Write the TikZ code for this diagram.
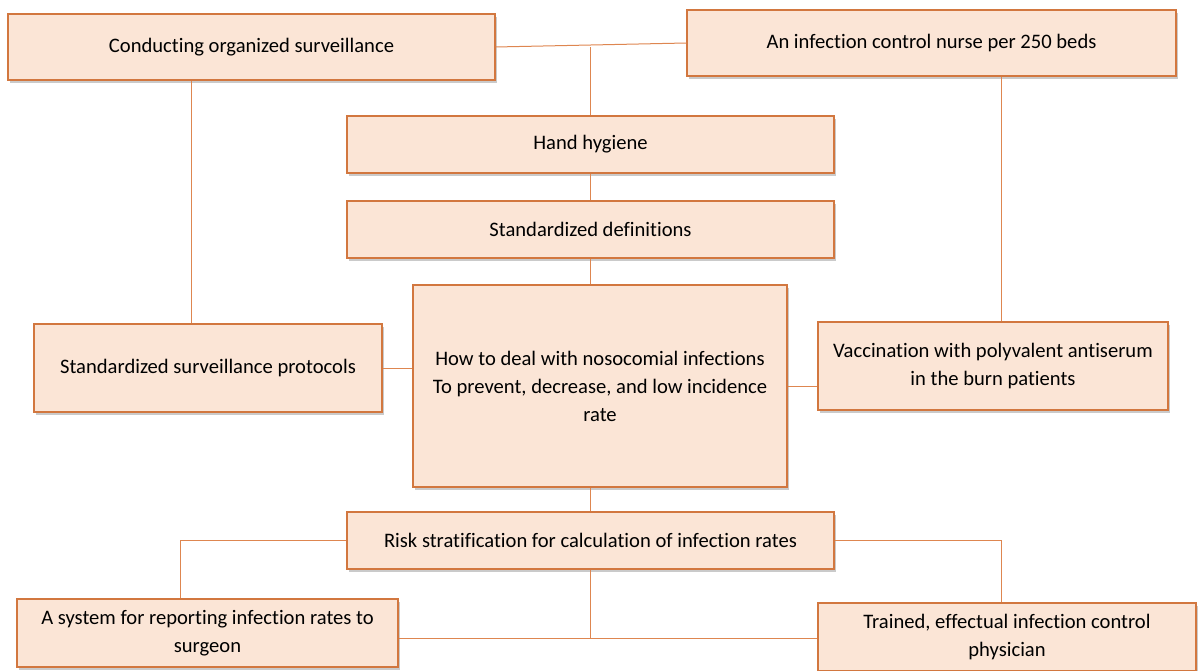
\documentclass[tikz,border=0pt]{standalone}
\usepackage{fontspec}
\setmainfont[Ligatures=NoCommon]{Carlito}
\usetikzlibrary{shadows}
\definecolor{boxfill}{HTML}{FBE5D6}
\definecolor{boxline}{HTML}{D2773F}
\definecolor{linkline}{HTML}{DE8650}
\tikzset{
  box/.style={draw=boxline, fill=boxfill, line width=1.3pt, inner sep=0pt, align=center,
    font=\fontsize{20.6}{28}\selectfont, text=black,
    drop shadow={shadow xshift=2pt, shadow yshift=-3pt, opacity=0.35, fill=black!60}},
  link/.style={draw=linkline, line width=1pt}
}
\begin{document}
\begin{tikzpicture}[x=1pt,y=-1pt]
\useasboundingbox (0,0) rectangle (1198,671);
\node[box, minimum width=487pt, minimum height=66pt] (b1) at (251.5,47) {Conducting organized surveillance};
\node[box, minimum width=489pt, minimum height=66pt] (b2) at (931.5,43) {An infection control nurse per 250 beds};
\node[box, minimum width=487pt, minimum height=57pt] (hand) at (590.5,144.5) {Hand hygiene};
\node[box, minimum width=487pt, minimum height=57pt] (defs) at (590.5,229.5) {Standardized definitions};
\node[box, minimum width=374pt, minimum height=202pt] (ctr) at (600,386) {How to deal with nosocomial infections\\To prevent, decrease, and low incidence\\rate};
\node[box, minimum width=348pt, minimum height=88pt] (ssp) at (208,368) {Standardized surveillance protocols};
\node[box, minimum width=350pt, minimum height=88pt] (vac) at (993,366) {Vaccination with polyvalent antiserum\\in the burn patients};
\node[box, minimum width=487pt, minimum height=57pt] (risk) at (590.5,540.5) {Risk stratification for calculation of infection rates};
\node[box, minimum width=381pt, minimum height=68pt] (sys) at (207.5,633) {A system for reporting infection rates to\\surgeon};
\node[box, minimum width=378pt, minimum height=68pt] (trn) at (1007,637) {Trained, effectual infection control\\physician};
\coordinate (xl) at (191,0);
\coordinate (xr) at (1001,0);
\coordinate (xs) at (180,0);
\coordinate (jb) at (590.5,638);
% top connectors
\draw[link] (b1.east) -- (b2.west);
\draw[link] (hand.north) -- (hand.north |- b1.east);
\draw[link] (b1.south -| xl) -- (ssp.north -| xl);
\draw[link] (b2.south -| xr) -- (vac.north -| xr);
\draw[link] (hand.south) -- (defs.north);
\draw[link] (defs.south) -- (defs.south |- ctr.north);
\draw[link] (ssp.east) -- (ssp.east -| ctr.west);
\draw[link] (vac.west |- ctr.east) -- (ctr.east);
% bottom connectors
\draw[link] (risk.north |- ctr.south) -- (risk.north);
\draw[link] (risk.west) -| (sys.north -| xs);
\draw[link] (risk.east) -| (trn.north -| xr);
\draw[link] (risk.south) -- (jb);
\draw[link] (sys.east |- jb) -- (trn.west |- jb);
\end{tikzpicture}
\end{document}
